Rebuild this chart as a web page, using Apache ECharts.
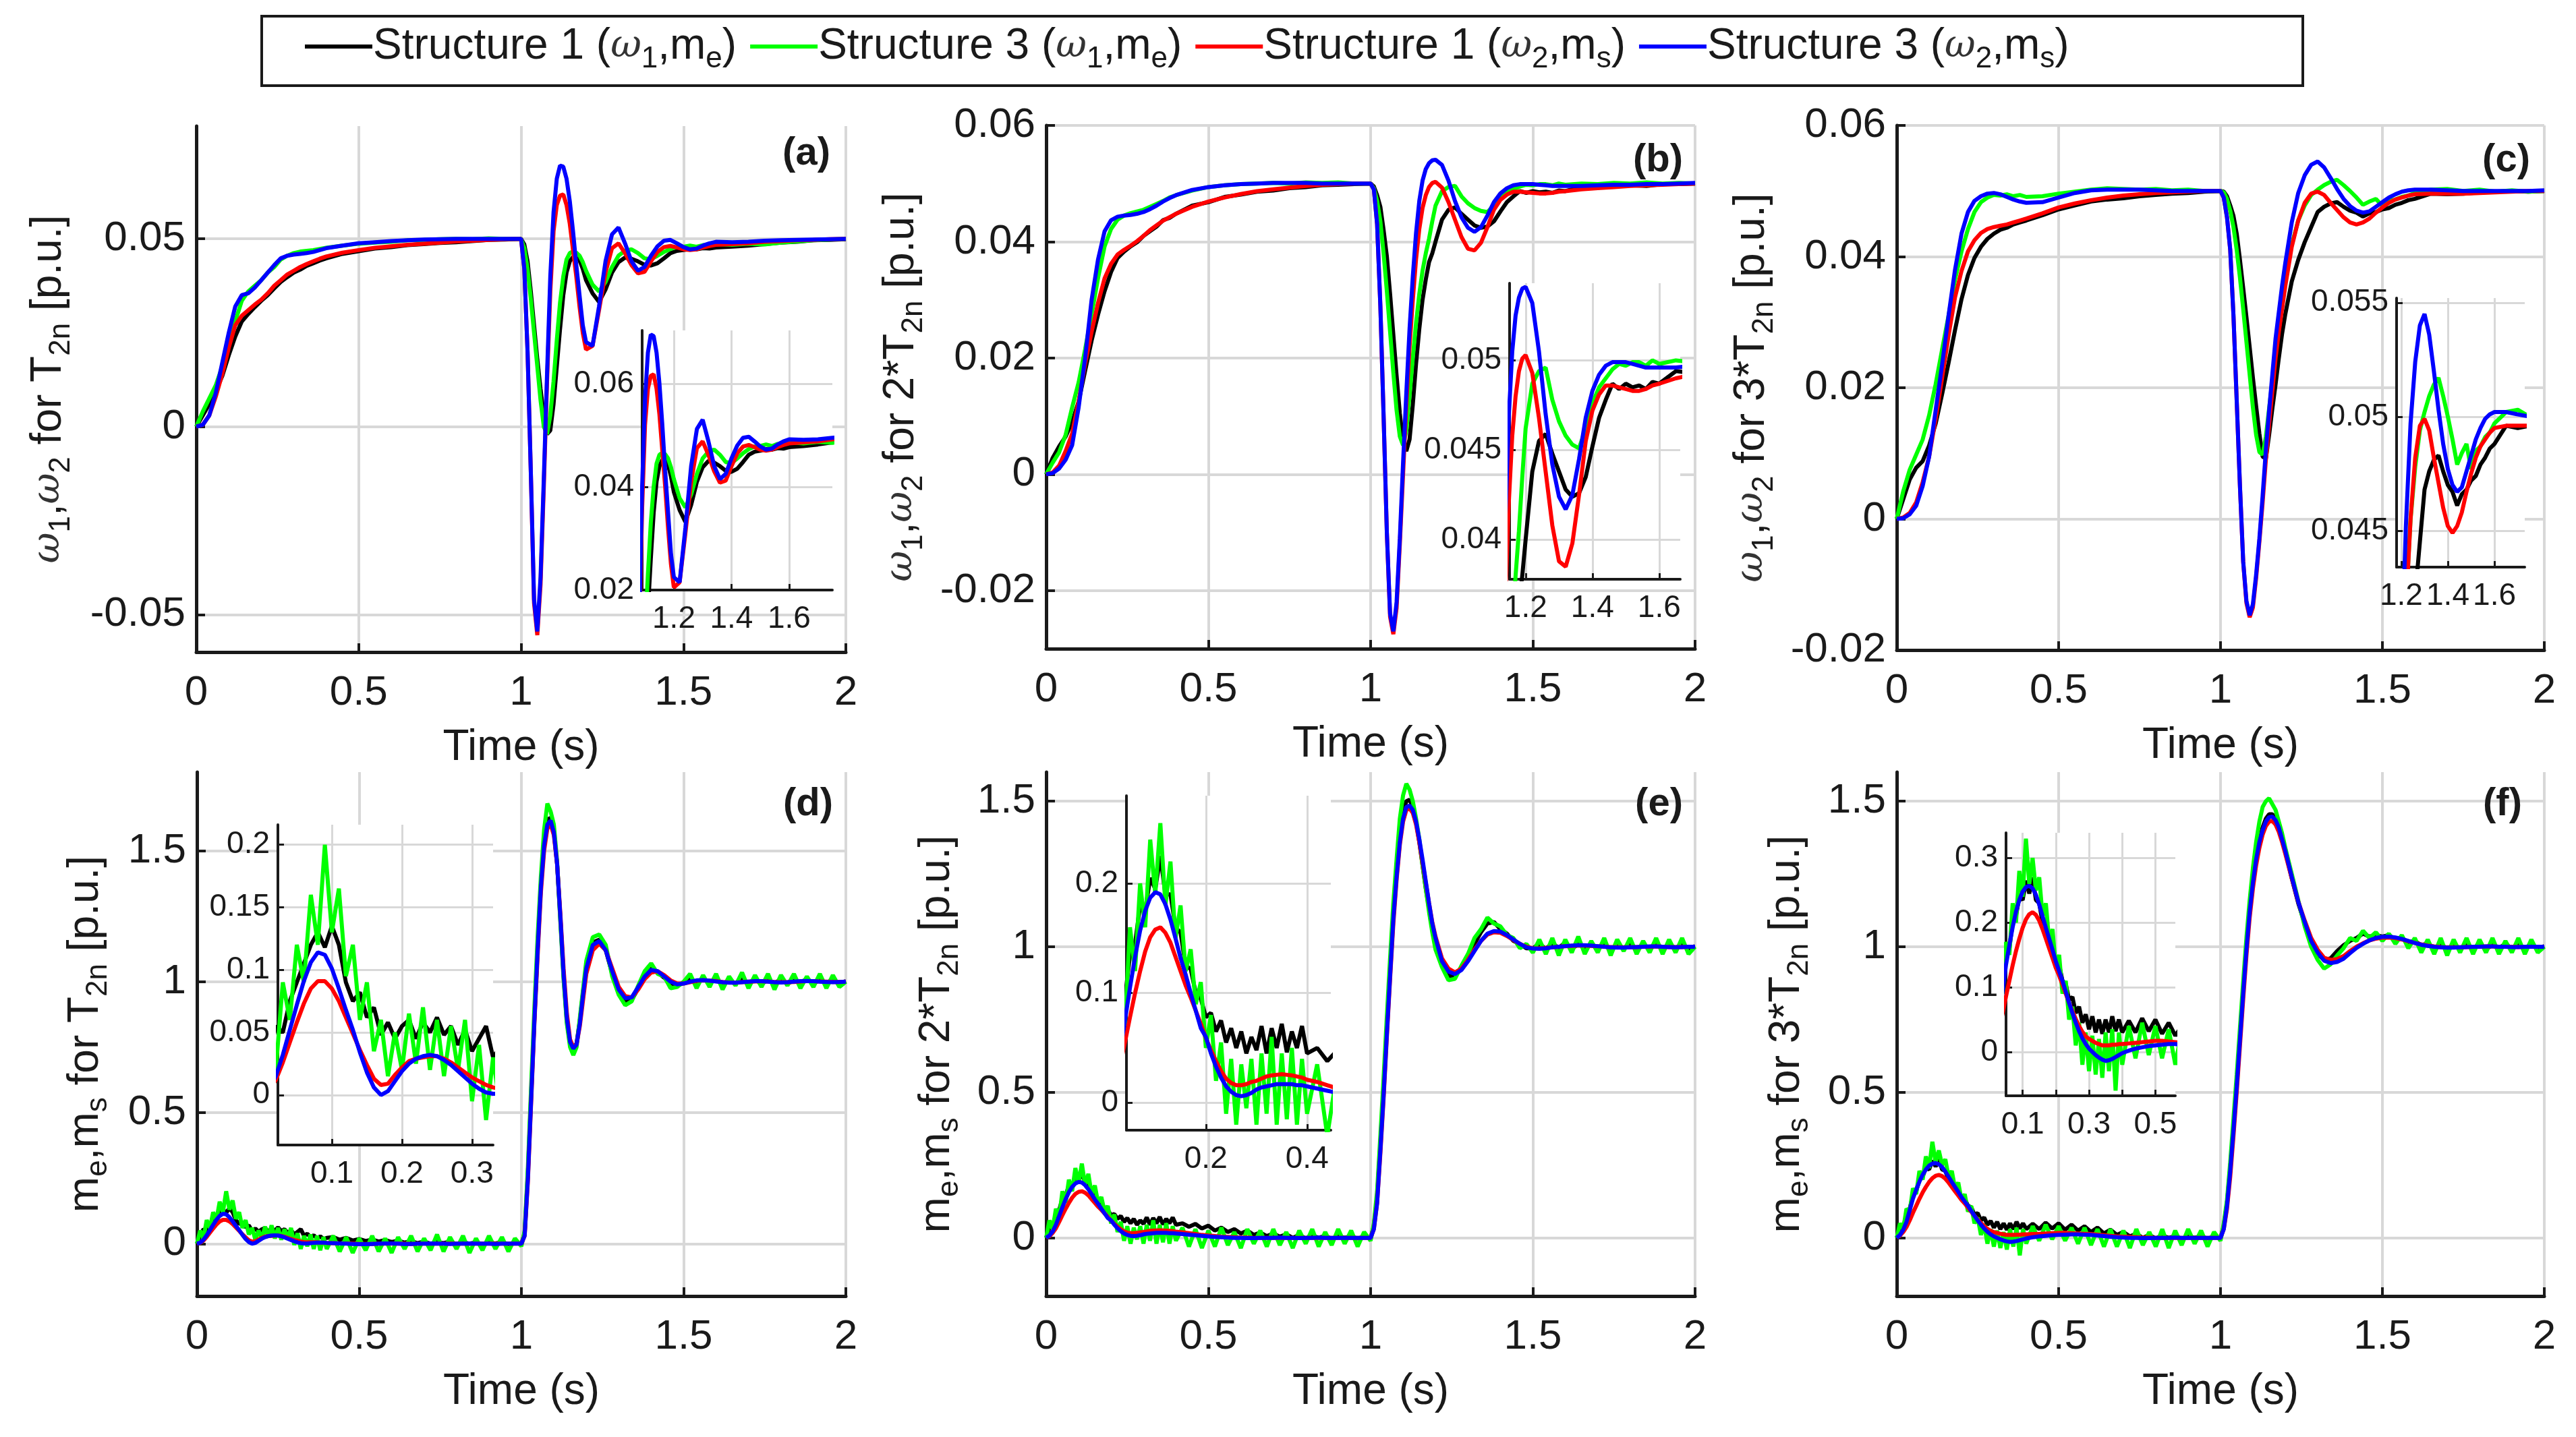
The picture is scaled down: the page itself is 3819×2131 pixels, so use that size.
<!DOCTYPE html>
<html>
<head>
<meta charset="utf-8">
<title>Speed and torque responses</title>
<script src="https://cdn.jsdelivr.net/npm/echarts@6.0.0/dist/echarts.min.js"></script>
<style>
html, body { margin: 0; padding: 0; background: #fff; }
#chart { width: 3819px; height: 2131px; }
</style>
</head>
<body>
<div id="chart"></div>
<script>
// ---- sample times ----
var tTop = [
    0, 0.02, 0.04, 0.06, 0.08, 0.1, 0.12, 0.14, 0.16, 0.18, 0.2, 0.22, 0.24, 0.26, 0.28, 0.3, 0.32, 0.34, 0.36, 0.38, 0.4,
    0.45, 0.5, 0.55, 0.6, 0.65, 0.7, 0.75, 0.8, 0.85, 0.9, 0.95, 1,
    1.01, 1.02, 1.03, 1.04, 1.05, 1.06, 1.07, 1.08, 1.09, 1.1, 1.11, 1.12, 1.13, 1.14, 1.15, 1.16, 1.17, 1.18, 1.19, 1.2,
    1.22, 1.24, 1.26, 1.28, 1.3, 1.32, 1.34, 1.36, 1.38, 1.4, 1.42, 1.44, 1.46, 1.48, 1.5, 1.52, 1.54, 1.56, 1.58, 1.6,
    1.65, 1.7, 1.75, 1.8, 1.85, 1.9, 1.95, 2
];
var tBot = [
    0, 0.01, 0.02, 0.03, 0.04, 0.05, 0.06, 0.07, 0.08, 0.09, 0.1, 0.11, 0.12, 0.13, 0.14, 0.15, 0.16, 0.17, 0.18, 0.19, 0.2,
    0.21, 0.22, 0.23, 0.24, 0.25, 0.26, 0.27, 0.28, 0.29, 0.3, 0.31, 0.32, 0.33, 0.34, 0.35, 0.36, 0.37, 0.38, 0.39, 0.4,
    0.42, 0.44, 0.46, 0.48, 0.5, 0.52, 0.54, 0.56, 0.58, 0.6, 0.62, 0.64, 0.66, 0.68, 0.7, 0.72, 0.74, 0.76, 0.78, 0.8,
    0.82, 0.84, 0.86, 0.88, 0.9, 0.92, 0.94, 0.96, 0.98, 1,
    1.01, 1.02, 1.03, 1.04, 1.05, 1.06, 1.07, 1.08, 1.09, 1.1, 1.11, 1.12, 1.13, 1.14, 1.15, 1.16, 1.17, 1.18, 1.19, 1.2,
    1.22, 1.24, 1.26, 1.28, 1.3, 1.32, 1.34, 1.36, 1.38, 1.4, 1.42, 1.44, 1.46, 1.48, 1.5,
    1.52, 1.54, 1.56, 1.58, 1.6, 1.62, 1.64, 1.66, 1.68, 1.7, 1.72, 1.74, 1.76, 1.78, 1.8,
    1.82, 1.84, 1.86, 1.88, 1.9, 1.92, 1.94, 1.96, 1.98, 2
];

// ---- (a) speeds for T2n ----
var aBlack = [
    0, 0.003, 0.006, 0.0095, 0.0135, 0.019, 0.024, 0.028, 0.030, 0.0318, 0.0335, 0.035, 0.0368, 0.0385, 0.0398, 0.041, 0.0418, 0.0428, 0.0435, 0.0442, 0.0448,
    0.046, 0.0467, 0.0474, 0.0478, 0.0483, 0.0486, 0.0489, 0.0491, 0.0494, 0.0497, 0.0498, 0.05,
    0.0485, 0.044, 0.036, 0.027, 0.018, 0.010, 0.003, -0.002, -0.001, 0.006, 0.016, 0.026, 0.035, 0.041, 0.044, 0.0452, 0.0453, 0.0443, 0.042, 0.039,
    0.0355, 0.0332, 0.0365, 0.041, 0.0438, 0.045, 0.0447, 0.044, 0.0431, 0.0429, 0.0435, 0.0448, 0.0462, 0.0468, 0.047, 0.0473, 0.0472, 0.0475, 0.0474, 0.0477,
    0.0479, 0.0482, 0.0486, 0.049, 0.0492, 0.0496, 0.0497, 0.0499
];
var aGreen = [
    0, 0.004, 0.0075, 0.011, 0.016, 0.022, 0.028, 0.0335, 0.036, 0.0375, 0.039, 0.041, 0.0425, 0.0445, 0.0455, 0.0462, 0.0466, 0.0468, 0.047, 0.0473, 0.0476,
    0.0482, 0.0487, 0.049, 0.0492, 0.0496, 0.0497, 0.0499, 0.05, 0.0499, 0.0501, 0.05, 0.05,
    0.0475, 0.042, 0.034, 0.025, 0.016, 0.007, 0.0, -0.002, 0.003, 0.012, 0.023, 0.033, 0.040, 0.0445, 0.0462, 0.0466, 0.0463, 0.0455, 0.0438, 0.0415,
    0.0378, 0.036, 0.0385, 0.0425, 0.0455, 0.0468, 0.0472, 0.0462, 0.0448, 0.0446, 0.0455, 0.0465, 0.0473, 0.0478, 0.0479, 0.0482, 0.0479, 0.0483, 0.0484, 0.0486,
    0.0484, 0.0487, 0.0485, 0.049, 0.0493, 0.0496, 0.0498, 0.05
];
var aRed = [
    0, 0.0005, 0.003, 0.008, 0.014, 0.021, 0.027, 0.0295, 0.031, 0.0325, 0.0338, 0.0355, 0.0375, 0.039, 0.0405, 0.0415, 0.0425, 0.0433, 0.044, 0.0447, 0.0453,
    0.0463, 0.047, 0.0476, 0.048, 0.0484, 0.0487, 0.049, 0.0493, 0.0495, 0.0497, 0.0499, 0.05,
    0.042, 0.020, -0.012, -0.047, -0.0555, -0.042, -0.016, 0.012, 0.036, 0.052, 0.059, 0.0615, 0.0618, 0.059, 0.054, 0.047, 0.040, 0.032, 0.025, 0.0205,
    0.0215, 0.031, 0.041, 0.0475, 0.0488, 0.0462, 0.043, 0.0408, 0.0412, 0.044, 0.0465, 0.0478, 0.0481, 0.0477, 0.0472, 0.047, 0.0472, 0.0477, 0.0481, 0.0484,
    0.0486, 0.0488, 0.0492, 0.0494, 0.0496, 0.0497, 0.0499, 0.05
];
var aBlue = [
    0, 0.0005, 0.003, 0.009, 0.017, 0.025, 0.032, 0.035, 0.0355, 0.037, 0.039, 0.041, 0.043, 0.0448, 0.0455, 0.0458, 0.046, 0.0462, 0.0465, 0.047, 0.0475,
    0.0482, 0.0488, 0.0491, 0.0494, 0.0496, 0.0498, 0.0499, 0.05, 0.05, 0.05, 0.05, 0.05,
    0.042, 0.020, -0.012, -0.046, -0.0545, -0.040, -0.014, 0.014, 0.040, 0.057, 0.066, 0.0695, 0.0692, 0.066, 0.060, 0.052, 0.043, 0.035, 0.027, 0.0225,
    0.0215, 0.032, 0.044, 0.0512, 0.053, 0.0488, 0.044, 0.0415, 0.0425, 0.0455, 0.048, 0.0495, 0.0497, 0.0488, 0.0478, 0.0472, 0.0474, 0.0482, 0.0488, 0.0492,
    0.0491, 0.0492, 0.0495, 0.0496, 0.0497, 0.0498, 0.0499, 0.05
];

// ---- (b) speeds for 2*T2n ----
var bBlack = [
    0, 0.0028, 0.0048, 0.0065, 0.009, 0.0125, 0.0178, 0.023, 0.0275, 0.0315, 0.0348, 0.0372, 0.0383, 0.0392, 0.0399, 0.041, 0.0418, 0.0426, 0.0437, 0.0441, 0.0448,
    0.0462, 0.0468, 0.0477, 0.0481, 0.0486, 0.0488, 0.0492, 0.0494, 0.0497, 0.0498, 0.0499, 0.05,
    0.0495, 0.048, 0.046, 0.042, 0.0375, 0.031, 0.024, 0.017, 0.0105, 0.0055, 0.004, 0.006, 0.012, 0.019, 0.025, 0.030, 0.0335, 0.0365, 0.038, 0.040,
    0.0438, 0.0455, 0.0459, 0.0448, 0.0438, 0.0428, 0.0424, 0.0426, 0.0435, 0.0452, 0.0468, 0.0478, 0.0487, 0.0484, 0.0487, 0.0485, 0.0486, 0.0484, 0.0488, 0.0487,
    0.0494, 0.0493, 0.0495, 0.0497, 0.0496, 0.0499, 0.0499, 0.05
];
var bGreen = [
    0, 0.002, 0.0038, 0.0068, 0.0115, 0.0158, 0.0215, 0.0275, 0.0338, 0.0392, 0.0422, 0.0438, 0.0445, 0.0449, 0.0452, 0.0455, 0.046, 0.0465, 0.047, 0.0476, 0.048,
    0.0488, 0.0494, 0.0497, 0.0499, 0.05, 0.0501, 0.05, 0.0502, 0.0501, 0.0502, 0.05, 0.05,
    0.0492, 0.047, 0.0435, 0.038, 0.0315, 0.0245, 0.0175, 0.011, 0.0065, 0.005, 0.0075, 0.0135, 0.020, 0.026, 0.031, 0.035, 0.038, 0.0405, 0.0435, 0.0462,
    0.0487, 0.0494, 0.0496, 0.0478, 0.0466, 0.0458, 0.0453, 0.0451, 0.0462, 0.0476, 0.0485, 0.049, 0.0495, 0.0498, 0.0497, 0.0499, 0.0499, 0.0497, 0.05, 0.0498,
    0.05, 0.0499, 0.0501, 0.05, 0.0502, 0.05, 0.0501, 0.05
];
var bRed = [
    0, 0.0003, 0.0015, 0.004, 0.007, 0.0125, 0.019, 0.0245, 0.0295, 0.0337, 0.0362, 0.0378, 0.0386, 0.0393, 0.0401, 0.041, 0.042, 0.0428, 0.0436, 0.0442, 0.0448,
    0.046, 0.0469, 0.0476, 0.0482, 0.0487, 0.049, 0.0493, 0.0496, 0.0498, 0.0499, 0.05, 0.05,
    0.049, 0.043, 0.029, 0.010, -0.010, -0.0245, -0.0275, -0.023, -0.012, 0.0, 0.012, 0.022, 0.030, 0.037, 0.0422, 0.0458, 0.048, 0.0494, 0.0501, 0.0503,
    0.0493, 0.0468, 0.0438, 0.0408, 0.0388, 0.0385, 0.0398, 0.0425, 0.0455, 0.0472, 0.0481, 0.0486, 0.0486, 0.0485, 0.0484, 0.0483, 0.0483, 0.0484, 0.0486, 0.0487,
    0.049, 0.0492, 0.0494, 0.0496, 0.0497, 0.0498, 0.0499, 0.05
];
var bBlue = [
    0, 0.0002, 0.001, 0.0025, 0.005, 0.0115, 0.020, 0.030, 0.037, 0.0418, 0.0437, 0.0443, 0.0445, 0.0446, 0.0448, 0.0451, 0.0456, 0.0462, 0.0469, 0.0475, 0.048,
    0.0489, 0.0494, 0.0497, 0.0499, 0.05, 0.0501, 0.0501, 0.0501, 0.05, 0.05, 0.05, 0.05,
    0.049, 0.043, 0.029, 0.010, -0.010, -0.024, -0.027, -0.022, -0.011, 0.002, 0.014, 0.025, 0.034, 0.0415, 0.047, 0.0505, 0.0525, 0.0535, 0.054, 0.0541,
    0.0532, 0.0505, 0.047, 0.0442, 0.0424, 0.0417, 0.0425, 0.0445, 0.0468, 0.0483, 0.0492, 0.0497, 0.0499, 0.0499, 0.0499, 0.0498, 0.0497, 0.0496, 0.0496, 0.0496,
    0.0496, 0.0497, 0.0498, 0.0498, 0.0499, 0.0499, 0.05, 0.0501
];

// ---- (c) speeds for 3*T2n ----
var cBlack = [
    0, 0.003, 0.006, 0.0078, 0.0088, 0.0112, 0.0145, 0.019, 0.0238, 0.0288, 0.0335, 0.0372, 0.0398, 0.0415, 0.0427, 0.0435, 0.0441, 0.0444, 0.0449, 0.0452, 0.0455,
    0.0463, 0.0472, 0.0478, 0.0484, 0.0487, 0.0489, 0.0492, 0.0494, 0.0496, 0.0497, 0.0499, 0.05,
    0.0499, 0.0492, 0.0478, 0.0462, 0.0435, 0.0395, 0.0352, 0.0308, 0.0262, 0.0215, 0.0172, 0.013, 0.0095, 0.0092, 0.0128, 0.0168, 0.0205, 0.0245, 0.0282, 0.0312,
    0.0362, 0.0395, 0.0422, 0.0445, 0.0468, 0.0476, 0.0481, 0.0483, 0.0476, 0.047, 0.0467, 0.0461, 0.0466, 0.0468, 0.0472, 0.0474, 0.0479, 0.0482, 0.0486, 0.0488,
    0.0496, 0.0495, 0.0496, 0.0498, 0.0499, 0.05, 0.0499, 0.05
];
var cGreen = [
    0, 0.0042, 0.0075, 0.0098, 0.0121, 0.0158, 0.0205, 0.0258, 0.031, 0.0365, 0.0408, 0.0442, 0.0468, 0.0483, 0.049, 0.0494, 0.0493, 0.0495, 0.0492, 0.0494, 0.0491,
    0.0492, 0.0496, 0.0499, 0.0502, 0.0504, 0.0503, 0.0502, 0.0503, 0.0501, 0.0502, 0.05, 0.05,
    0.0498, 0.0488, 0.047, 0.0445, 0.041, 0.0368, 0.032, 0.027, 0.022, 0.017, 0.0128, 0.0102, 0.0098, 0.0125, 0.0168, 0.021, 0.0255, 0.0298, 0.0335, 0.0368,
    0.0418, 0.0455, 0.0478, 0.0494, 0.0502, 0.0509, 0.0514, 0.0517, 0.0509, 0.05, 0.049, 0.0479, 0.0484, 0.0488, 0.0477, 0.0485, 0.0487, 0.0491, 0.0493, 0.0497,
    0.0502, 0.0503, 0.05, 0.0502, 0.0499, 0.0501, 0.0499, 0.05
];
var cRed = [
    0, 0.0002, 0.0009, 0.0025, 0.0056, 0.0095, 0.0152, 0.0215, 0.028, 0.0338, 0.0378, 0.0408, 0.0425, 0.0436, 0.0442, 0.0445, 0.0447, 0.0449, 0.0452, 0.0455, 0.0458,
    0.0466, 0.0475, 0.0481, 0.0486, 0.049, 0.0493, 0.0495, 0.0497, 0.0498, 0.0499, 0.05, 0.05,
    0.049, 0.046, 0.041, 0.031, 0.018, 0.005, -0.0065, -0.0128, -0.015, -0.0135, -0.009, -0.0035, 0.0025, 0.009, 0.0145, 0.0195, 0.0245, 0.0285, 0.032, 0.0355,
    0.0415, 0.0455, 0.0482, 0.0496, 0.0499, 0.0494, 0.0482, 0.0471, 0.046, 0.0452, 0.0449, 0.0452, 0.0458, 0.0467, 0.0475, 0.0482, 0.0487, 0.049, 0.0493, 0.0495,
    0.0496, 0.0496, 0.0496, 0.0497, 0.0498, 0.0499, 0.05, 0.05
];
var cBlue = [
    0, 0.0001, 0.0007, 0.002, 0.005, 0.0095, 0.0165, 0.0235, 0.031, 0.038, 0.0435, 0.0468, 0.0485, 0.0492, 0.0496, 0.0497, 0.0495, 0.0491, 0.0487, 0.0484, 0.0482,
    0.0483, 0.049, 0.0497, 0.0501, 0.0502, 0.0502, 0.0502, 0.0501, 0.05, 0.05, 0.05, 0.05,
    0.049, 0.046, 0.041, 0.031, 0.018, 0.005, -0.0065, -0.0125, -0.0147, -0.013, -0.0085, -0.003, 0.0035, 0.0105, 0.0165, 0.022, 0.0275, 0.0315, 0.0355, 0.039,
    0.0452, 0.0497, 0.0524, 0.054, 0.0545, 0.0536, 0.052, 0.0503, 0.0488, 0.0477, 0.047, 0.0467, 0.0469, 0.0476, 0.0483, 0.049, 0.0495, 0.0499, 0.0501, 0.0502,
    0.0502, 0.0501, 0.05, 0.05, 0.05, 0.05, 0.05, 0.0501
];

// ---- (d) torques for T2n ----
var dBlack = [
    0, 0.03, 0.055, 0.05, 0.075, 0.09, 0.105, 0.12, 0.13, 0.118, 0.135, 0.12, 0.09, 0.075, 0.082, 0.062, 0.07, 0.048, 0.058, 0.045, 0.055,
    0.06, 0.045, 0.058, 0.05, 0.062, 0.048, 0.055, 0.04, 0.052, 0.035, 0.045, 0.055, 0.03, 0.038, 0.025, 0.032, 0.02, 0.028, 0.018, 0.022,
    0.025, 0.015, 0.022, 0.012, 0.018, 0.01, 0.016, 0.008, 0.014, 0.006, 0.012, 0.004, 0.01, 0.002, 0.008, 0.0, 0.006, 0.002, 0.008, -0.002,
    0.006, 0.0, 0.005, -0.003, 0.004, 0.001, 0.006, -0.002, 0.004, 0.0,
    0.04, 0.27, 0.57, 0.86, 1.13, 1.37, 1.54, 1.62, 1.625, 1.575, 1.45, 1.24, 1.02, 0.85, 0.765, 0.74, 0.765, 0.85, 0.96, 1.06,
    1.15, 1.16, 1.12, 1.03, 0.96, 0.925, 0.93, 0.975, 1.03, 1.05, 1.035, 1.015, 0.995, 0.985, 0.995,
    1.01, 0.995, 1.012, 0.998, 1.008, 0.99, 1.005, 0.993, 1.01, 0.996, 1.008, 0.992, 1.006, 0.995, 1.009,
    0.993, 1.004, 0.997, 1.01, 0.994, 1.006, 0.996, 1.008, 0.993, 1.002
];
var dGreen = [
    0, 0.05, 0.02, 0.09, 0.06, 0.12, 0.09, 0.16, 0.12, 0.2, 0.13, 0.165, 0.095, 0.12, 0.06, 0.09, 0.035, 0.06, 0.015, 0.05, 0.02,
    0.065, 0.025, 0.07, 0.02, 0.06, 0.015, 0.055, 0.02, 0.06, -0.005, 0.04, -0.02, 0.03, -0.01, 0.035, -0.02, 0.03, -0.025, 0.025, -0.02,
    0.03, -0.03, 0.025, -0.035, 0.02, -0.025, 0.03, -0.03, 0.02, -0.035, 0.025, -0.02, 0.03, -0.03, 0.02, -0.025, 0.035, -0.03, 0.025, -0.02,
    0.03, -0.035, 0.02, -0.025, 0.03, -0.02, 0.025, -0.03, 0.02, -0.01,
    0.05, 0.29, 0.6, 0.9, 1.17, 1.4, 1.58, 1.68, 1.65, 1.6, 1.46, 1.23, 1.01, 0.84, 0.75, 0.72, 0.75, 0.86, 0.97, 1.08,
    1.17, 1.18, 1.14, 1.02, 0.95, 0.91, 0.925, 0.985, 1.04, 1.07, 1.03, 1.02, 0.975, 0.98, 1.0,
    1.03, 0.975, 1.025, 0.98, 1.03, 0.97, 1.02, 0.985, 1.035, 0.975, 1.025, 0.98, 1.03, 0.97, 1.025,
    0.985, 1.03, 0.975, 1.02, 0.98, 1.03, 0.975, 1.025, 0.98, 1.0
];
var dRed = [
    0, 0.003, 0.012, 0.026, 0.042, 0.058, 0.073, 0.085, 0.091, 0.091, 0.085, 0.075, 0.062, 0.049, 0.036, 0.024, 0.013, 0.008, 0.009, 0.016, 0.022,
    0.027, 0.029, 0.03, 0.031, 0.031, 0.029, 0.026, 0.022, 0.018, 0.014, 0.011, 0.008, 0.006, 0.005, 0.005, 0.005, 0.005, 0.004, 0.004, 0.003,
    0.002, 0.001, 0.001, 0, -0.001, -0.001, -0.001, 0, 0, 0.001, 0, 0, -0.001, 0, 0, 0, 0, 0, 0, 0,
    0, 0, 0, 0, 0, 0, 0, 0, 0, 0,
    0.03, 0.24, 0.54, 0.84, 1.1, 1.34, 1.5, 1.585, 1.6, 1.56, 1.45, 1.26, 1.05, 0.88, 0.78, 0.75, 0.76, 0.83, 0.93, 1.03,
    1.12, 1.145, 1.12, 1.05, 0.98, 0.945, 0.94, 0.97, 1.01, 1.035, 1.04, 1.025, 1.005, 0.993, 0.993,
    0.998, 1.003, 1.005, 1.004, 1.002, 0.999, 0.997, 0.996, 0.998, 1, 1.001, 1.002, 1.001, 0.999, 0.998,
    0.998, 0.999, 1.001, 1.002, 1.002, 1.001, 1, 0.999, 0.999, 1
];
var dBlue = [
    0, 0.004, 0.015, 0.032, 0.052, 0.072, 0.091, 0.106, 0.114, 0.112, 0.101, 0.085, 0.068, 0.052, 0.034, 0.018, 0.006, 0, 0.003, 0.011, 0.019,
    0.025, 0.029, 0.031, 0.032, 0.031, 0.028, 0.024, 0.019, 0.014, 0.009, 0.005, 0.002, 0.001, 0.001, 0.002, 0.003, 0.004, 0.004, 0.004, 0.003,
    0.002, 0.001, 0, -0.001, -0.002, -0.002, -0.001, 0, 0.001, 0.001, 0, -0.001, -0.001, 0, 0, 0.001, 0, 0, -0.001, 0,
    0, 0.001, 0, 0, 0, -0.001, 0, 0, 0, 0,
    0.03, 0.25, 0.55, 0.85, 1.12, 1.36, 1.52, 1.6, 1.615, 1.57, 1.45, 1.25, 1.03, 0.86, 0.77, 0.745, 0.76, 0.84, 0.95, 1.05,
    1.14, 1.155, 1.12, 1.04, 0.97, 0.937, 0.94, 0.98, 1.02, 1.045, 1.04, 1.02, 1, 0.99, 0.993,
    1, 1.005, 1.006, 1.004, 1.001, 0.998, 0.996, 0.996, 0.998, 1, 1.002, 1.002, 1, 0.998, 0.997,
    0.998, 1, 1.002, 1.003, 1.002, 1, 0.999, 0.998, 0.999, 1
];

// ---- (e) torques for 2*T2n ----
var eBlack = [
    0, 0.035, 0.04, 0.08, 0.095, 0.135, 0.145, 0.18, 0.175, 0.205, 0.195, 0.225, 0.19, 0.19, 0.16, 0.155, 0.125, 0.122, 0.1, 0.095, 0.078,
    0.082, 0.065, 0.075, 0.055, 0.068, 0.05, 0.065, 0.045, 0.06, 0.048, 0.07, 0.045, 0.068, 0.05, 0.072, 0.046, 0.065, 0.05, 0.07, 0.045,
    0.05, 0.038, 0.048, 0.032, 0.042, 0.025, 0.035, 0.02, 0.03, 0.015, 0.025, 0.01, 0.018, 0.006, 0.015, 0.004, 0.012, 0, 0.01, -0.002,
    0.008, 0, 0.007, -0.003, 0.006, 0, 0.005, -0.002, 0.004, 0,
    0.04, 0.14, 0.32, 0.51, 0.72, 0.92, 1.11, 1.26, 1.38, 1.46, 1.5, 1.505, 1.48, 1.43, 1.36, 1.28, 1.2, 1.13, 1.06, 1.01,
    0.935, 0.9, 0.9, 0.93, 0.97, 1.01, 1.05, 1.08, 1.085, 1.06, 1.045, 1.02, 1.01, 0.995, 0.995,
    1.01, 0.993, 1.012, 0.996, 1.015, 0.992, 1.01, 0.995, 1.012, 0.994, 1.008, 0.99, 1.006, 0.995, 1.01,
    0.992, 1.005, 0.996, 1.012, 0.994, 1.008, 0.995, 1.01, 0.993, 1.002
];
var eGreen = [
    0, 0.06, 0.03, 0.1, 0.07, 0.16, 0.12, 0.2, 0.16, 0.24, 0.19, 0.255, 0.18, 0.22, 0.15, 0.18, 0.12, 0.14, 0.09, 0.11, 0.05,
    0.08, 0.02, 0.055, -0.01, 0.04, -0.02, 0.035, -0.005, 0.04, -0.02, 0.045, -0.01, 0.06, -0.02, 0.045, -0.015, 0.05, -0.02, 0.04, -0.01,
    0.035, -0.03, 0.03, -0.035, 0.025, -0.03, 0.035, -0.025, 0.02, -0.035, 0.03, -0.02, 0.025, -0.03, 0.03, -0.025, 0.02, -0.035, 0.025, -0.02,
    0.03, -0.03, 0.02, -0.025, 0.03, -0.02, 0.025, -0.03, 0.02, -0.01,
    0.05, 0.16, 0.35, 0.55, 0.76, 0.96, 1.15, 1.3, 1.44, 1.52, 1.56, 1.54, 1.5, 1.44, 1.37, 1.28, 1.2, 1.12, 1.05, 0.99,
    0.93, 0.885, 0.89, 0.935, 0.975, 1.03, 1.06, 1.1, 1.08, 1.07, 1.04, 1.03, 0.995, 1.01, 0.98,
    1.025, 0.975, 1.03, 0.97, 1.025, 0.98, 1.035, 0.975, 1.02, 0.98, 1.03, 0.97, 1.025, 0.985, 1.03,
    0.975, 1.02, 0.98, 1.03, 0.975, 1.025, 0.98, 1.03, 0.975, 1
];
var eRed = [
    0, 0.006, 0.017, 0.033, 0.055, 0.078, 0.1, 0.12, 0.138, 0.151, 0.158, 0.16, 0.155, 0.146, 0.133, 0.12, 0.107, 0.096, 0.084, 0.072, 0.059,
    0.048, 0.038, 0.029, 0.022, 0.018, 0.016, 0.016, 0.017, 0.019, 0.02, 0.022, 0.024, 0.025, 0.0255, 0.026, 0.0255, 0.025, 0.024, 0.023, 0.021,
    0.019, 0.016, 0.013, 0.01, 0.008, 0.006, 0.004, 0.003, 0.002, 0.001, 0.001, 0, 0, 0, 0, 0, 0, 0, 0, 0,
    0, 0, 0, 0, 0, 0, 0, 0, 0, 0,
    0.03, 0.12, 0.29, 0.48, 0.69, 0.89, 1.08, 1.23, 1.35, 1.43, 1.47, 1.475, 1.46, 1.42, 1.36, 1.29, 1.22, 1.15, 1.085, 1.035,
    0.96, 0.925, 0.912, 0.925, 0.955, 0.99, 1.02, 1.042, 1.05, 1.048, 1.037, 1.023, 1.01, 1, 0.995,
    0.994, 0.996, 0.998, 1, 1.002, 1.003, 1.004, 1.004, 1.003, 1.002, 1, 0.999, 0.998, 0.998, 0.998,
    0.999, 1, 1, 1.001, 1, 0.999, 0.999, 0.999, 1, 1
];
var eBlue = [
    0, 0.008, 0.022, 0.045, 0.075, 0.105, 0.133, 0.157, 0.175, 0.187, 0.192, 0.19, 0.181, 0.167, 0.15, 0.132, 0.117, 0.1, 0.084, 0.068, 0.06,
    0.045, 0.033, 0.023, 0.015, 0.01, 0.007, 0.006, 0.007, 0.009, 0.012, 0.014, 0.015, 0.016, 0.017, 0.017, 0.017, 0.017, 0.016, 0.016, 0.015,
    0.013, 0.011, 0.009, 0.007, 0.005, 0.003, 0.002, 0.001, 0, 0, -0.001, -0.001, 0, 0, 0, 0.001, 0, 0, -0.001, 0,
    0, 0.001, 0, 0, 0, 0, 0, 0, 0, 0,
    0.03, 0.12, 0.3, 0.49, 0.7, 0.9, 1.096, 1.24, 1.36, 1.44, 1.48, 1.485, 1.47, 1.43, 1.37, 1.3, 1.225, 1.15, 1.08, 1.03,
    0.95, 0.915, 0.906, 0.92, 0.95, 0.985, 1.02, 1.045, 1.054, 1.052, 1.04, 1.025, 1.01, 0.998, 0.994,
    0.993, 0.995, 0.998, 1, 1.002, 1.004, 1.005, 1.005, 1.004, 1.002, 1, 0.998, 0.997, 0.997, 0.998,
    0.999, 1, 1.001, 1.001, 1, 0.999, 0.998, 0.999, 1, 1
];

// ---- (f) torques for 3*T2n ----
var fBlack = [
    0, 0.025, 0.04, 0.075, 0.1, 0.145, 0.16, 0.2, 0.21, 0.24, 0.235, 0.265, 0.245, 0.27, 0.235, 0.23, 0.2, 0.2, 0.17, 0.165, 0.14,
    0.135, 0.11, 0.105, 0.08, 0.085, 0.06, 0.07, 0.045, 0.058, 0.035, 0.055, 0.03, 0.05, 0.028, 0.05, 0.03, 0.055, 0.032, 0.05, 0.03,
    0.048, 0.03, 0.052, 0.032, 0.05, 0.028, 0.045, 0.025, 0.04, 0.02, 0.035, 0.015, 0.028, 0.01, 0.02, 0.005, 0.014, 0, 0.01, -0.002,
    0.008, 0, 0.006, -0.003, 0.005, 0, 0.005, -0.002, 0.004, 0,
    0.04, 0.12, 0.24, 0.38, 0.53, 0.69, 0.85, 1, 1.13, 1.23, 1.31, 1.37, 1.41, 1.44, 1.455, 1.455, 1.44, 1.41, 1.37, 1.33,
    1.235, 1.15, 1.08, 1.02, 0.975, 0.955, 0.96, 0.985, 1.005, 1.02, 1.03, 1.045, 1.035, 1.04, 1.035,
    1.04, 1.025, 1.03, 1.015, 1.02, 1.005, 1.012, 0.995, 1.008, 0.993, 1.006, 0.994, 1.008, 0.995, 1.01,
    0.993, 1.005, 0.996, 1.01, 0.994, 1.007, 0.995, 1.009, 0.993, 1.002
];
var fGreen = [
    0, 0.05, 0.03, 0.1, 0.09, 0.17, 0.15, 0.23, 0.2, 0.28, 0.24, 0.33, 0.26, 0.3, 0.25, 0.27, 0.21, 0.23, 0.17, 0.19, 0.13,
    0.15, 0.09, 0.11, 0.05, 0.07, 0.01, 0.045, -0.02, 0.03, -0.03, 0.025, -0.035, 0.02, -0.04, 0.03, -0.03, 0.035, -0.06, 0.03, -0.02,
    0.04, -0.01, 0.045, -0.005, 0.04, -0.01, 0.035, -0.02, 0.035, -0.025, 0.03, -0.03, 0.03, -0.03, 0.025, -0.035, 0.03, -0.025, 0.02, -0.03,
    0.03, -0.035, 0.025, -0.025, 0.03, -0.02, 0.025, -0.03, 0.02, -0.01,
    0.05, 0.13, 0.26, 0.41, 0.56, 0.72, 0.88, 1.03, 1.16, 1.27, 1.36, 1.43, 1.48, 1.5, 1.51, 1.49, 1.47, 1.43, 1.39, 1.34,
    1.25, 1.16, 1.07, 1, 0.955, 0.925, 0.94, 0.97, 0.995, 1.03, 1.02, 1.055, 1.03, 1.05, 1.02,
    1.045, 1.01, 1.04, 0.995, 1.03, 0.98, 1.025, 0.975, 1.03, 0.97, 1.025, 0.98, 1.03, 0.975, 1.025,
    0.98, 1.03, 0.975, 1.02, 0.98, 1.03, 0.975, 1.025, 0.98, 1
];
var fRed = [
    0, 0.008, 0.02, 0.037, 0.06, 0.086, 0.11, 0.134, 0.156, 0.175, 0.192, 0.205, 0.213, 0.216, 0.212, 0.203, 0.19, 0.175, 0.16, 0.145, 0.13,
    0.118, 0.104, 0.09, 0.076, 0.063, 0.051, 0.04, 0.031, 0.024, 0.02, 0.017, 0.014, 0.012, 0.01, 0.01, 0.01, 0.011, 0.011, 0.012, 0.012,
    0.013, 0.014, 0.015, 0.016, 0.017, 0.017, 0.016, 0.015, 0.014, 0.013, 0.011, 0.009, 0.007, 0.005, 0.004, 0.003, 0.002, 0.001, 0.001, 0,
    0, 0, 0, 0, 0, 0, 0, 0, 0, 0,
    0.03, 0.1, 0.21, 0.35, 0.5, 0.66, 0.82, 0.97, 1.1, 1.2, 1.28, 1.34, 1.385, 1.415, 1.43, 1.432, 1.42, 1.395, 1.36, 1.32,
    1.235, 1.155, 1.09, 1.03, 0.99, 0.962, 0.955, 0.958, 0.968, 0.985, 1, 1.012, 1.022, 1.028, 1.031,
    1.032, 1.03, 1.025, 1.019, 1.013, 1.008, 1.004, 1.001, 0.999, 0.998, 0.998, 0.998, 0.999, 1, 1,
    1.001, 1.001, 1, 1, 1, 0.999, 1, 1, 1, 1
];
var fBlue = [
    0, 0.01, 0.028, 0.055, 0.095, 0.135, 0.165, 0.193, 0.217, 0.235, 0.248, 0.255, 0.257, 0.253, 0.243, 0.228, 0.21, 0.192, 0.175, 0.158, 0.14,
    0.125, 0.11, 0.093, 0.076, 0.06, 0.045, 0.032, 0.021, 0.012, 0.005, 0, -0.005, -0.009, -0.012, -0.014, -0.013, -0.011, -0.008, -0.005, -0.002,
    0.002, 0.005, 0.007, 0.009, 0.01, 0.011, 0.012, 0.012, 0.011, 0.01, 0.008, 0.006, 0.004, 0.002, 0.001, 0, 0, -0.001, -0.001, 0,
    0, 0, 0.001, 0, 0, 0, 0, 0, 0, 0,
    0.03, 0.11, 0.23, 0.37, 0.52, 0.68, 0.84, 0.99, 1.12, 1.22, 1.3, 1.36, 1.4, 1.43, 1.445, 1.447, 1.435, 1.41, 1.37, 1.33,
    1.24, 1.155, 1.085, 1.02, 0.98, 0.952, 0.944, 0.948, 0.959, 0.978, 0.996, 1.01, 1.022, 1.03, 1.034,
    1.035, 1.032, 1.027, 1.02, 1.013, 1.007, 1.003, 1, 0.998, 0.997, 0.997, 0.998, 0.999, 1, 1,
    1.001, 1.001, 1, 1, 0.999, 0.999, 1, 1, 1, 1
];

// ---- tick values ----
var timeTicks = [0, 0.5, 1, 1.5, 2];
var aYTicks = [-0.05, 0, 0.05];
var bYTicks = [-0.02, 0, 0.02, 0.04, 0.06];
var cYTicks = [-0.02, 0, 0.02, 0.04, 0.06];
var torqueTicks = [0, 0.5, 1, 1.5];
var speedInsetXTicks = [1.2, 1.4, 1.6];
var aInsetYTicks = [0.02, 0.04, 0.06];
var bInsetYTicks = [0.04, 0.045, 0.05];
var cInsetYTicks = [0.045, 0.05, 0.055];
var dInsetXTicks = [0.1, 0.2, 0.3];
var dInsetYTicks = [0, 0.05, 0.1, 0.15, 0.2];
var eInsetXTicks = [0.2, 0.4];
var eInsetYTicks = [0, 0.1, 0.2];
var fInsetXTicks = [0.1, 0.2, 0.3, 0.4, 0.5];
var fInsetXLabels = [0.1, 0.3, 0.5];
var fInsetYTicks = [0, 0.1, 0.2, 0.3];

var seriesNames = ['Structure 1 (ω1,me)', 'Structure 3 (ω1,me)', 'Structure 1 (ω2,ms)', 'Structure 3 (ω2,ms)'];
var legendRich = [
    'Structure 1 ({w|ω}{s|1},m{s|e})',
    'Structure 3 ({w|ω}{s|1},m{s|e})',
    'Structure 1 ({w|ω}{s|2},m{s|s})',
    'Structure 3 ({w|ω}{s|2},m{s|s})'
];
var colors = ['#000000', '#00ff00', '#ff0000', '#0000ff'];

var FONT = 'Liberation Sans, Arial, Helvetica, sans-serif';
var INK = '#1a1a1a';
var richStyles = {
    w: {fontFamily: 'DejaVu Serif', fontStyle: 'italic', fontSize: 56, color: '#333'},
    s: {fontFamily: FONT, fontSize: 44, color: INK, padding: [38, 0, 0, 0]}
};

var panels = [
    {letter: '(a)', lx: 1231, ly: 228, t: tTop, vals: [aBlack, aGreen, aRed, aBlue],
     yname: '{w|ω}{s|1},{w|ω}{s|2} for T{s|2n} [p.u.]', ygap: 178,
     main: {left: 291, top: 187, width: 963, height: 780, ymin: -0.06, ymax: 0.08, yticks: aYTicks},
     inset: {left: 952, top: 490, width: 282, height: 385, xmin: 1.09, xmax: 1.75, xticks: speedInsetXTicks,
             ymin: 0.02, ymax: 0.0703, yticks: aInsetYTicks}},
    {letter: '(b)', lx: 2495, ly: 238, t: tTop, vals: [bBlack, bGreen, bRed, bBlue],
     yname: '{w|ω}{s|1},{w|ω}{s|2} for 2*T{s|2n} [p.u.]', ygap: 174,
     main: {left: 1551, top: 186, width: 962, height: 776, ymin: -0.03, ymax: 0.06, yticks: bYTicks},
     inset: {left: 2238, top: 420, width: 253, height: 439, xmin: 1.152, xmax: 1.663, xticks: speedInsetXTicks,
             ymin: 0.0378, ymax: 0.0543, yticks: bInsetYTicks}},
    {letter: '(c)', lx: 3751, ly: 238, t: tTop, vals: [cBlack, cGreen, cRed, cBlue],
     yname: '{w|ω}{s|1},{w|ω}{s|2} for 3*T{s|2n} [p.u.]', ygap: 174,
     main: {left: 2812, top: 186, width: 960, height: 778, ymin: -0.02, ymax: 0.06, yticks: cYTicks},
     inset: {left: 3553, top: 442, width: 190, height: 399, xmin: 1.18, xmax: 1.73, xticks: speedInsetXTicks,
             ymin: 0.0434, ymax: 0.0552, yticks: cInsetYTicks}},
    {letter: '(d)', lx: 1235, ly: 1193, t: tBot, vals: [dBlack, dGreen, dRed, dBlue],
     yname: 'm{s|e},m{s|s} for T{s|2n} [p.u.]', ygap: 124,
     main: {left: 292, top: 1145, width: 962, height: 777, ymin: -0.2, ymax: 1.8, yticks: torqueTicks},
     inset: {left: 412, top: 1223, width: 319, height: 475, xmin: 0.023, xmax: 0.33, xticks: dInsetXTicks,
             ymin: -0.04, ymax: 0.216, yticks: dInsetYTicks}},
    {letter: '(e)', lx: 2495, ly: 1193, t: tBot, vals: [eBlack, eGreen, eRed, eBlue],
     yname: 'm{s|e},m{s|s} for 2*T{s|2n} [p.u.]', ygap: 121,
     main: {left: 1551, top: 1145, width: 962, height: 777, ymin: -0.2, ymax: 1.6, yticks: torqueTicks},
     inset: {left: 1670, top: 1180, width: 303, height: 496, xmin: 0.043, xmax: 0.447, xticks: eInsetXTicks,
             ymin: -0.025, ymax: 0.28, yticks: eInsetYTicks}},
    {letter: '(f)', lx: 3739, ly: 1193, t: tBot, vals: [fBlack, fGreen, fRed, fBlue],
     yname: 'm{s|e},m{s|s} for 3*T{s|2n} [p.u.]', ygap: 122,
     main: {left: 2812, top: 1145, width: 960, height: 777, ymin: -0.2, ymax: 1.6, yticks: torqueTicks},
     inset: {left: 2974, top: 1235, width: 251, height: 390, xmin: 0.05, xmax: 0.56, xticks: fInsetXTicks,
             xlabels: fInsetXLabels, ymin: -0.068, ymax: 0.339, yticks: fInsetYTicks}}
];

function zip(t, v) {
    return t.map(function (x, i) { return [x, v[i]]; });
}

function axis(kind, idx, min, max, ticks, labels, small, extra) {
    var a = {
        type: 'value', gridIndex: idx, min: min, max: max, z: small ? 9 : 0,
        axisLine: {show: true, onZero: false, lineStyle: {color: INK, width: small ? 4 : 5}},
        axisTick: {show: true, inside: true, length: small ? 9 : 13, customValues: ticks,
                   lineStyle: {color: INK, width: small ? 3 : 4}},
        axisLabel: {customValues: labels || ticks, fontSize: small ? 46 : 62, fontFamily: FONT, color: INK,
                    margin: kind === 'x' ? (small ? 20 : 30) : (small ? 12 : 16)},
        splitLine: {show: true, lineStyle: {color: '#d8d8d8', width: small ? 3 : 4}}
    };
    for (var k in extra) { a[k] = extra[k]; }
    return a;
}

var grids = [], xAxes = [], yAxes = [], series = [], graphics = [];

panels.forEach(function (p) {
    var gi = grids.length;
    var m = p.main, s = p.inset;
    grids.push({left: m.left, top: m.top, width: m.width, height: m.height, containLabel: false, z: 0});
    grids.push({left: s.left, top: s.top, width: s.width, height: s.height, containLabel: false,
                show: true, backgroundColor: '#ffffff', borderWidth: 0, z: 8});

    xAxes.push(axis('x', gi, 0, 2, timeTicks, null, false, {
        name: 'Time (s)', nameLocation: 'middle', nameGap: 110,
        nameTextStyle: {fontSize: 64, fontFamily: FONT, color: INK}
    }));
    yAxes.push(axis('y', gi, m.ymin, m.ymax, m.yticks, null, false, {
        name: p.yname, nameLocation: 'middle', nameRotate: 90, nameGap: p.ygap,
        nameTextStyle: {fontSize: 64, fontFamily: FONT, color: INK, rich: richStyles}
    }));
    xAxes.push(axis('x', gi + 1, s.xmin, s.xmax, s.xticks, s.xlabels, true, {}));
    yAxes.push(axis('y', gi + 1, s.ymin, s.ymax, s.yticks, null, true, {}));

    [gi, gi + 1].forEach(function (g, k) {
        p.vals.forEach(function (v, j) {
            series.push({
                name: seriesNames[j], type: 'line', xAxisIndex: g, yAxisIndex: g,
                data: zip(p.t, v), showSymbol: false, symbol: 'none', clip: true,
                z: (k ? 10 : 2) + j,
                lineStyle: {color: colors[j], width: 6},
                itemStyle: {color: colors[j]}
            });
        });
    });

    graphics.push({
        type: 'text', z: 20,
        style: {text: p.letter, x: p.lx, y: p.ly, align: 'right', verticalAlign: 'middle',
                font: 'bold 58px ' + FONT, fill: INK}
    });
});

graphics.push({
    type: 'rect', z: 20,
    shape: {x: 388, y: 24, width: 3026, height: 103},
    style: {fill: 'none', stroke: INK, lineWidth: 4}
});

var chart = echarts.init(document.getElementById('chart'), null, {renderer: 'canvas'});
chart.setOption({
    animation: false,
    backgroundColor: '#ffffff',
    color: colors,
    grid: grids,
    xAxis: xAxes,
    yAxis: yAxes,
    series: series,
    graphic: graphics,
    legend: {
        data: seriesNames, left: 447, top: 32, icon: 'rect', itemWidth: 100, itemHeight: 6, itemGap: 20,
        selectedMode: false,
        formatter: function (name) { return legendRich[seriesNames.indexOf(name)]; },
        textStyle: {fontSize: 64, fontFamily: FONT, color: INK, padding: [0, 0, 0, -4], rich: richStyles}
    }
});
</script>
</body>
</html>
